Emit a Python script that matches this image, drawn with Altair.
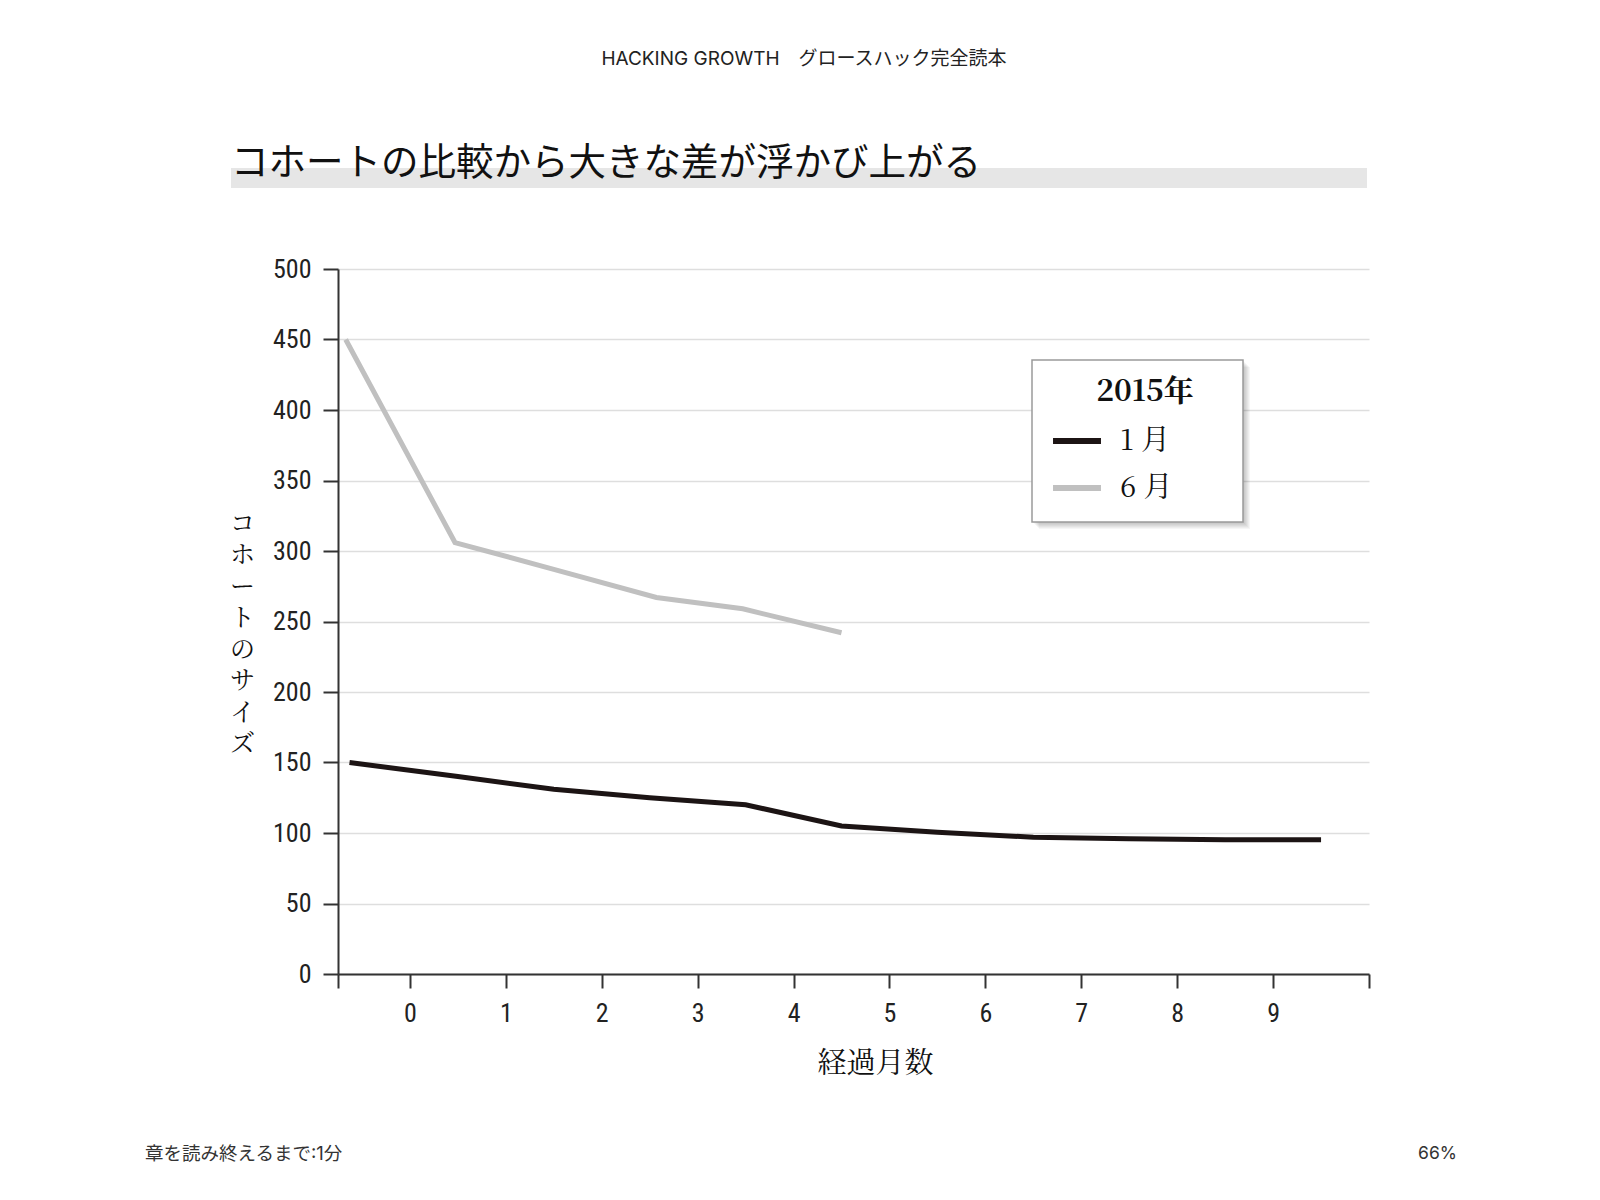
import altair as alt
import pandas as pd

HEADER = "HACKING GROWTH　グロースハック完全読本"
TITLE = "コホートの比較から大きな差が浮かび上がる"
FOOTER_LEFT = "章を読み終えるまで:1分"
FOOTER_RIGHT = "66%"
Y_TITLE = "コホートのサイズ"
X_TITLE = "経過月数"
LEGEND_TITLE = "2015年"

SERIES = ["1 月", "6 月"]
COLORS = ["#1c1414", "#c0c0c0"]

# cohort size by months elapsed
JAN_X = [-0.63, 0.5, 1.5, 2.5, 3.5, 4.5, 5.5, 6.5, 7.5, 8.5, 9.5]
JAN_Y = [150, 140, 131, 125, 120, 105, 100.5, 97, 96, 95.3, 95.3]
JUN_X = [-0.67, 0.47, 1.5, 2.57, 3.47, 4.5]
JUN_Y = [450, 306, 287, 267, 259, 242]

X_TICKS = list(range(10))
Y_TICKS = list(range(0, 501, 50))

W, H = 1031, 705
NUM_FONT = "Liberation Sans Narrow, Roboto Condensed, DejaVu Sans Condensed, Liberation Sans"
SERIF = "Noto Serif CJK JP, Liberation Serif, Noto Sans CJK JP"
SANS = "Inter, Noto Sans CJK JP"

df = pd.DataFrame(
    {
        "month": JAN_X + JUN_X,
        "size": JAN_Y + JUN_Y,
        "cohort": [SERIES[0]] * len(JAN_X) + [SERIES[1]] * len(JUN_X),
    }
)


def _label(text, x, y, **style):
    return (
        alt.Chart(pd.DataFrame({"t": [text]}))
        .mark_text(**style)
        .encode(text="t:N", x=alt.value(x), y=alt.value(y))
    )


def _box(x, x2, y, y2, **style):
    return (
        alt.Chart(pd.DataFrame({"k": [0]}))
        .mark_rect(**style)
        .encode(x=alt.value(x), x2=alt.value(x2), y=alt.value(y), y2=alt.value(y2))
    )


# the axis runs a little past the first and last month, with a tick at each end
x_values = [-0.75] + X_TICKS + [10]

lines = (
    alt.Chart(df)
    .mark_line(strokeWidth=5)
    .encode(
        x=alt.X(
            "month:Q",
            title=X_TITLE,
            scale=alt.Scale(domain=[-0.75, 10], nice=False, zero=False),
            axis=alt.Axis(
                values=x_values,
                tickCount=len(x_values) + 4,
                tickMinStep=0.25,
                labelExpr="datum.value >= 0 && datum.value <= 9 ? format(datum.value, 'd') : ''",
                grid=False,
                tickSize=14,
                labelPadding=12,
                labelFont=NUM_FONT,
                labelFontSize=26,
                labelFlush=False,
                labelOverlap=False,
                titleFont=SERIF,
                titleFontSize=29,
                titleFontWeight="normal",
                titleX=537,
                titleY=89,
                titleBaseline="middle",
            ),
        ),
        y=alt.Y(
            "size:Q",
            title=list(Y_TITLE),
            scale=alt.Scale(domain=[0, 500], nice=False),
            axis=alt.Axis(
                values=Y_TICKS,
                tickCount=len(Y_TICKS) + 4,
                tickSize=15,
                labelPadding=12,
                labelFont=NUM_FONT,
                labelFontSize=26,
                titleFont=SERIF,
                titleFontSize=25,
                titleFontWeight="normal",
                titleAngle=0,
                titleAlign="center",
                titleBaseline="top",
                titleLineHeight=31.5,
                titleX=-96,
                titleY=242,
            ),
        ),
        color=alt.Color(
            "cohort:N",
            scale=alt.Scale(domain=SERIES, range=COLORS),
            legend=alt.Legend(
                title=None,
                orient="none",
                legendX=712,
                legendY=145,
                padding=0,
                symbolType="stroke",
                symbolStrokeWidth=6,
                symbolSize=2300,
                labelFont=SERIF,
                labelFontSize=29,
                labelColor="#111",
                labelOffset=16,
                rowPadding=5,
            ),
        ),
    )
)

decor = [
    _box(-107, 1029, -101, -81, color="#e6e6e6"),
    _label(TITLE, -107, -105, align="left", baseline="middle", font=SANS, fontSize=37.5, color="#111"),
    _label(HEADER, 466, -210, align="center", baseline="middle", font=SANS, fontSize=19, color="#222"),
    _label(FOOTER_LEFT, -193, 885, align="left", baseline="middle", font=SANS, fontSize=18.5, color="#333"),
    _label(FOOTER_RIGHT, 1119, 885, align="right", baseline="middle", font=SANS, fontSize=17.5, color="#333"),
]
# soft drop shadow under the legend box
for k in range(1, 8):
    decor.append(_box(694 + k, 905 + k, 91 + k, 253 + k, color="#000", opacity=0.035))
decor.append(_box(694, 905, 91, 253, color="#fff", stroke="#9a9a9a", strokeWidth=1.5))
decor.append(_label(LEGEND_TITLE, 807, 123, align="center", baseline="middle", font=SERIF, fontSize=30, fontWeight="bold", color="#111"))

chart = (
    alt.layer(*decor, lines)
    .properties(
        width=W,
        height=H,
        padding={"left": 330, "top": 261, "right": 215, "bottom": 200},
        autosize="none",
        background="#ffffff",
    )
    .configure_view(stroke=None)
    .configure_axis(
        domainColor="#333",
        domainWidth=2,
        tickColor="#333",
        tickWidth=2,
        labelColor="#222",
        titleColor="#111",
        gridColor="#dedede",
        gridWidth=1.5,
    )
)

chart.save("out.html", embed_options={"renderer": "svg", "actions": False})
